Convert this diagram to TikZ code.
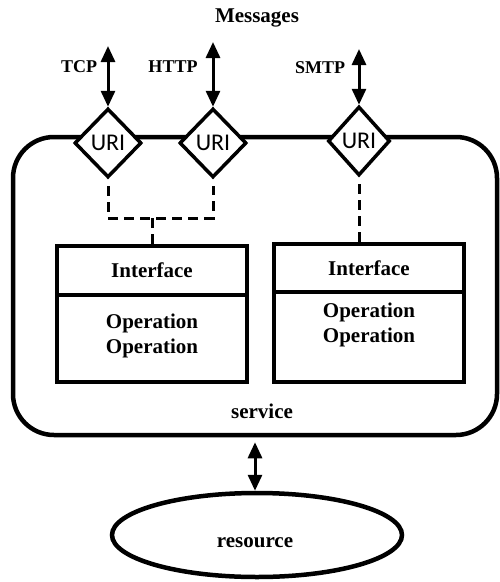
\documentclass[tikz,border=0pt]{standalone}
\usepackage{fontspec}
\setmainfont{Liberation Serif}
\newfontfamily\urifont{Carlito}
\usetikzlibrary{shapes.geometric,arrows.meta,positioning}

\tikzset{
  lbl/.style={font=\bfseries\fontsize{21}{25}\selectfont, align=center},
  proto/.style={font=\bfseries\fontsize{18}{22}\selectfont},
  uri/.style={diamond, draw, fill=white, line width=3.5pt, inner sep=0pt,
    minimum width=67pt, minimum height=69pt, font=\urifont\fontsize{24}{28}\selectfont},
  ifbox/.style={rectangle, draw, line width=4pt, outer sep=0pt, minimum width=190pt},
  link/.style={line width=3pt, dash pattern=on 10pt off 6pt, shorten <=7pt},
  msg/.style={<->, line width=3pt},
}

\begin{document}
\begin{tikzpicture}[x=1pt,y=-1pt,>={Triangle[length=16pt,width=14pt]}]
\useasboundingbox (0,0) rectangle (500,582);
% service
\node (svc) [draw, line width=4.5pt, rounded corners=41pt, minimum width=484pt, minimum height=298pt] at (255,286) {};
\node (svcTxt) [lbl] at (262,411) {service};
\node (msgs) [lbl] at (257,18) {Messages};
% endpoints
\node (uTcp) [uri] at (108,143) {URI};
\node (uHttp) [uri] at (213,143) {URI};
\node (uSmtp) [uri, minimum width=62pt] at (359,141) {URI};
\coordinate (tTcp) at (108,46);
\coordinate (tHttp) at (213,42);
\coordinate (tSmtp) at (359,49);
\draw[msg] (tTcp) -- (uTcp.north);
\draw[msg] (tHttp) -- (uHttp.north);
\draw[msg] (tSmtp) -- (uSmtp.north);
\node (lTcp) [proto] at (79,67) {TCP};
\node (lHttp) [proto] at (173,67) {HTTP};
\node (lSmtp) [proto] at (320,68) {SMTP};
% interfaces
\node (ifL) [ifbox, lbl, minimum height=49pt] at (152,270.5) {Interface};
\node (opL) [ifbox, minimum height=87pt, below=0pt of ifL] {};
\node (opLTxt) [lbl] at (152,336) {Operation\\Operation};
\node (ifR) [ifbox, lbl, minimum height=48pt] at (369,268) {Interface};
\node (opR) [ifbox, minimum height=90pt, below=0pt of ifR] {};
\node (opRTxt) [lbl] at (369,325) {Operation\\Operation};
\coordinate (jL) at (152,218);
\draw[link, shorten >=7pt] (uTcp.south) |- (jL) -| (uHttp.south);
\draw[link, shorten <=0pt] (jL) -- (ifL.north);
\draw[link] (uSmtp.south) -- (uSmtp.south |- ifR.north);
% resource
\node (res) [ellipse, draw, line width=4.5pt, minimum width=290pt, minimum height=84pt] at (257,535) {};
\node (resTxt) [lbl] at (255,543) {resource};
\draw[msg, shorten <=5pt] (svc.south) -- (svc.south |- res.north);
\end{tikzpicture}
\end{document}
